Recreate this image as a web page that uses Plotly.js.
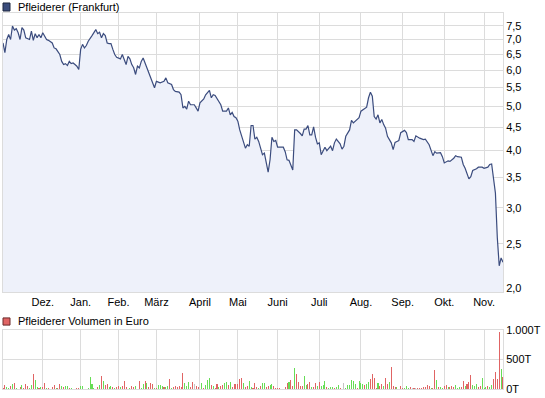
<!DOCTYPE html>
<html><head><meta charset="utf-8">
<script src="https://cdn.plot.ly/plotly-3.0.1.min.js"></script>
<style>html,body{margin:0;padding:0;background:#fff}#chart{width:545px;height:398px}</style>
</head><body><div id="chart"></div>
<script>
// ---- Price (Frankfurt), closing values ----
const priceDates = [
 '2009-11-02','2009-11-03','2009-11-04','2009-11-05','2009-11-06','2009-11-09','2009-11-10','2009-11-11','2009-11-12','2009-11-13','2009-11-16','2009-11-17','2009-11-18','2009-11-20','2009-11-23','2009-11-24','2009-11-25','2009-11-26','2009-11-27','2009-11-30',
 '2009-12-01','2009-12-02','2009-12-03','2009-12-04','2009-12-08','2009-12-09','2009-12-10','2009-12-14','2009-12-15','2009-12-16','2009-12-17','2009-12-18','2009-12-21','2009-12-22','2009-12-23','2009-12-28','2009-12-29','2009-12-30',
 '2010-01-04','2010-01-05','2010-01-06','2010-01-07','2010-01-08','2010-01-12','2010-01-13','2010-01-14','2010-01-15','2010-01-18','2010-01-19','2010-01-20','2010-01-21','2010-01-22','2010-01-25','2010-01-26','2010-01-27','2010-01-28','2010-01-29',
 '2010-02-02','2010-02-03','2010-02-04','2010-02-05','2010-02-08','2010-02-09','2010-02-10','2010-02-11','2010-02-12','2010-02-15','2010-02-16','2010-02-17','2010-02-18','2010-02-19','2010-02-23','2010-02-24','2010-02-26',
 '2010-03-01','2010-03-03','2010-03-05','2010-03-08','2010-03-09','2010-03-11','2010-03-12','2010-03-15','2010-03-17','2010-03-18','2010-03-19','2010-03-22','2010-03-23','2010-03-24','2010-03-25','2010-03-29','2010-03-30','2010-03-31',
 '2010-04-01','2010-04-07','2010-04-08','2010-04-12','2010-04-13','2010-04-14','2010-04-15','2010-04-19','2010-04-20','2010-04-21','2010-04-23','2010-04-26','2010-04-27','2010-04-28','2010-04-29','2010-04-30',
 '2010-05-03','2010-05-04','2010-05-06','2010-05-07','2010-05-10','2010-05-11','2010-05-12','2010-05-13','2010-05-14','2010-05-17','2010-05-18','2010-05-19','2010-05-20','2010-05-21','2010-05-24','2010-05-25','2010-05-26','2010-05-27','2010-05-28','2010-05-31',
 '2010-06-01','2010-06-02','2010-06-04','2010-06-07','2010-06-08','2010-06-09','2010-06-10','2010-06-11','2010-06-14','2010-06-15','2010-06-17','2010-06-18','2010-06-21','2010-06-22','2010-06-23','2010-06-24','2010-06-25','2010-06-28','2010-06-29','2010-06-30',
 '2010-07-01','2010-07-02','2010-07-06','2010-07-07','2010-07-09','2010-07-12','2010-07-13','2010-07-14','2010-07-16','2010-07-19','2010-07-20','2010-07-21','2010-07-23','2010-07-26','2010-07-27','2010-07-29','2010-07-30',
 '2010-08-02','2010-08-04','2010-08-05','2010-08-06','2010-08-09','2010-08-10','2010-08-11','2010-08-12','2010-08-13','2010-08-16','2010-08-17','2010-08-18','2010-08-19','2010-08-20','2010-08-24','2010-08-25','2010-08-26','2010-08-27','2010-08-30','2010-08-31',
 '2010-09-02','2010-09-03','2010-09-06','2010-09-08','2010-09-09','2010-09-10','2010-09-14','2010-09-16','2010-09-17','2010-09-21','2010-09-22','2010-09-23','2010-09-24','2010-09-27','2010-09-29','2010-09-30',
 '2010-10-01','2010-10-05','2010-10-06','2010-10-08','2010-10-11','2010-10-12','2010-10-14','2010-10-15','2010-10-18','2010-10-20','2010-10-21','2010-10-22','2010-10-26','2010-10-27','2010-10-29',
 '2010-11-01','2010-11-03','2010-11-04','2010-11-05','2010-11-08','2010-11-09','2010-11-10','2010-11-11','2010-11-12','2010-11-15'
];
const priceValues = [
 6.88,6.55,7.00,7.18,7.00,7.49,7.34,7.39,7.24,7.00,7.43,7.34,7.06,7.00,7.30,6.97,7.21,7.06,7.18,7.06,
 7.24,7.14,7.00,6.97,6.88,6.71,6.68,6.49,6.27,6.17,6.20,6.14,6.27,6.20,6.22,6.17,6.12,6.02,
 6.66,6.83,6.71,6.79,6.94,7.14,7.24,7.36,7.21,7.26,7.06,7.21,7.14,6.88,6.86,6.86,6.66,6.49,6.40,
 6.35,6.49,6.35,6.17,6.43,6.35,6.17,6.07,5.87,6.12,6.07,6.27,6.38,6.22,5.92,5.72,5.49,
 5.67,5.63,5.67,5.77,5.63,5.58,5.44,5.39,5.37,5.30,4.96,5.00,4.93,5.13,5.04,5.04,4.96,4.88,
 5.09,5.19,5.30,5.42,5.22,5.30,5.28,5.13,5.04,4.88,4.88,4.96,4.79,4.85,4.75,4.72,
 4.64,4.44,4.19,4.05,4.12,4.09,4.54,4.54,4.24,4.28,4.19,4.07,3.92,3.95,3.76,3.59,3.82,4.28,4.19,4.21,
 4.07,4.07,4.07,3.98,3.82,3.81,3.73,3.63,4.44,4.44,4.36,4.31,4.46,4.46,4.54,4.33,4.33,4.51,4.28,4.14,
 4.16,3.92,4.07,4.00,4.09,4.00,4.16,4.24,4.14,4.03,4.09,4.30,4.44,4.66,4.60,4.69,4.72,
 4.88,4.96,4.98,5.22,5.37,5.26,4.75,4.69,4.79,4.60,4.68,4.56,4.48,4.30,4.16,4.02,4.17,4.19,4.21,4.38,
 4.43,4.38,4.23,4.23,4.19,4.31,4.26,4.23,4.24,4.12,4.02,3.90,3.98,3.95,3.96,3.88,
 3.76,3.80,3.79,3.85,3.90,3.88,3.87,3.73,3.66,3.47,3.51,3.62,3.65,3.68,3.68,
 3.66,3.68,3.73,3.74,3.51,3.23,2.58,2.24,2.33,2.28
];

// ---- Trading calendar (Frankfurt) ----
const tradeStart = '2009-11-02';
const tradeEnd = '2010-11-15';
const holidays = ['2009-12-24','2009-12-25','2009-12-31','2010-01-01','2010-04-02','2010-04-05'];

// ---- Daily volume in thousand euro (T), one per trading day ----
const volumes = [
 17,61,28,11,44,78,94,17,0,33, 61,11,78,44,17,61,261,144,28,17, 28,28,94,17,11,0,33,61,17,11, 78,44,28,44,44,11,11,0,0,11,
 11,56,44,0,0,11,211,78,17,0, 28,61,228,128,61,78,28,56,28,11, 28,44,28,44,128,28,6,11,44,28, 44,0,128,11,78,128,94,28,94,78,
 11,11,61,61,44,28,39,44,161,11, 28,44,28,44,28,278,94,44,111,28, 111,78,44,28,0,94,11,61,144,178, 61,44,11,78,28,44,61,94,111,61,
 111,28,78,78,78,161,194,94,28,44, 128,28,11,94,28,11,44,94,94,28, 44,61,78,44,11,11,11,0,0,33, 94,111,144,44,361,261,111,44,44,228,
 61,78,111,28,28,94,44,111,44,61, 128,28,11,28,28,11,28,61,11,0, 94,11,61,61,144,128,78,11,128,94, 78,61,78,111,161,261,194,11,94,44,
 78,44,178,78,111,378,44,28,28,0, 44,11,11,44,11,28,11,11,11,11, 11,11,28,28,61,44,11,11,328,144, 28,28,11,44,61,28,28,44,28,61,
 11,28,28,128,44,78,111,244,61,44, 78,28,44,178,11,28,44,28,61,161, 294,161,961,344,200
];
// u = price up (green), d = price down (red), n = unchanged (grey)
const volDirection = (
 'dduududund'+'uddduuduud'+'uddudnddud'+'duduudunnd'+'duunnuuuun'+'dududduudu'+'dduddddudd'+'unduududdd'+
 'uduuuduudu'+'dddddduuud'+'dnddnuduuu'+'duddudduud'+'uddddddudd'+'uuddduduud'+'duuddddnnd'+'dudduddddu'+
 'uddudduduu'+'uduuuduudn'+'nuuuuuuduu'+'uduuddddud'+'duddudddun'+'dduuudndnd'+'dddddduddu'+'duuddudddu'+
 'uudduddduu'+'udduuuduud'+'dddud').split('');

// ---- Axis ticks ----
const monthTicks = ['2009-12-01','2010-01-04','2010-02-01','2010-03-01','2010-04-01','2010-05-03','2010-06-01','2010-07-01','2010-08-02','2010-09-01','2010-10-01','2010-11-01'];
const monthLabels = ['Dez.','Jan.','Feb.','März','April','Mai','Juni','Juli','Aug.','Sep.','Okt.','Nov.'];
const priceTicks = [2.0,2.5,3.0,3.5,4.0,4.5,5.0,5.5,6.0,6.5,7.0,7.5];
const priceTickLabels = ['2,0','2,5','3,0','3,5','4,0','4,5','5,0','5,5','6,0','6,5','7,0','7,5'];
const volTicks = [0,500,1000];
const volTickLabels = ['0T','500T','1.000T'];

// build list of trading days from the calendar
function tradingDays(){
  const out=[]; const d=new Date(tradeStart+'T00:00:00Z'); const end=new Date(tradeEnd+'T00:00:00Z');
  while(d<=end){ const w=d.getUTCDay(); const s=d.toISOString().slice(0,10);
    if(w!==0 && w!==6 && holidays.indexOf(s)<0) out.push(s); d.setUTCDate(d.getUTCDate()+1); }
  return out;
}
const volDates = tradingDays();
const dirColor = {u:'#66dd55', d:'#e06464', n:'#c4c4c4'};

const grid = '#dcdcdc';
const font = {family:'"Liberation Sans", Arial, sans-serif', size:11, color:'#000'};
const breaks = [{bounds:['sat','mon']},{values:holidays}];

const traces = [
  {type:'scatter', mode:'lines', x:priceDates, y:priceValues, xaxis:'x', yaxis:'y',
   line:{color:'#3b4c7e', width:1.2}, fill:'tozeroy', fillcolor:'#eef1fa', hoverinfo:'skip'},
  {type:'bar', x:volDates, y:volumes, xaxis:'x2', yaxis:'y2',
   marker:{color:volDirection.map(c=>dirColor[c]), line:{width:0}}, width:0.55*86400000, hoverinfo:'skip'}
];

const layout = {
  width:545, height:398, margin:{l:3, r:42, t:13, b:9},
  paper_bgcolor:'#fff', plot_bgcolor:'#fff', showlegend:false, font:font, bargap:0,
  xaxis:{type:'date', range:[tradeStart, tradeEnd], rangebreaks:breaks, anchor:'y',
    tickmode:'array', tickvals:monthTicks, ticktext:monthLabels, ticks:'', showgrid:true, gridcolor:grid, gridwidth:1,
    showline:true, mirror:true, linecolor:grid, linewidth:1, zeroline:false, tickfont:font},
  yaxis:{type:'log', domain:[0.258,1], range:[Math.log10(1.963), Math.log10(8)], side:'right',
    tickmode:'array', tickvals:priceTicks, ticktext:priceTickLabels, ticks:'', showgrid:true, gridcolor:grid,
    showline:true, mirror:true, linecolor:grid, linewidth:1, zeroline:false, tickfont:font},
  xaxis2:{type:'date', matches:'x', range:[tradeStart, tradeEnd], rangebreaks:breaks, anchor:'y2',
    tickmode:'array', tickvals:monthTicks, showticklabels:false, ticks:'', showgrid:true, gridcolor:grid,
    showline:true, mirror:true, linecolor:grid, linewidth:1, zeroline:false},
  yaxis2:{domain:[0,0.157], range:[0,1000], side:'right', anchor:'x2',
    tickmode:'array', tickvals:volTicks, ticktext:volTickLabels, ticks:'', showgrid:true, gridcolor:grid,
    showline:true, mirror:true, linecolor:grid, linewidth:1, zeroline:false, tickfont:font},
  shapes:[
    {type:'rect', xref:'paper', yref:'paper', x0:0, x1:0.014, y0:1.0053, y1:1.0266, fillcolor:'#3a4c7c', line:{color:'#1e2840', width:1}},
    {type:'rect', xref:'paper', yref:'paper', x0:0, x1:0.014, y0:0.170, y1:0.189, fillcolor:'#e06464', line:{color:'#6a2a2a', width:1}}
  ],
  annotations:[
    {xref:'paper', yref:'paper', x:0.026, y:1.017, xanchor:'left', yanchor:'middle', showarrow:false, text:'Pfleiderer (Frankfurt)', font:font},
    {xref:'paper', yref:'paper', x:0.026, y:0.180, xanchor:'left', yanchor:'middle', showarrow:false, text:'Pfleiderer Volumen in Euro', font:font}
  ]
};
Plotly.newPlot('chart', traces, layout, {staticPlot:true, displayModeBar:false});
</script>
</body></html>
